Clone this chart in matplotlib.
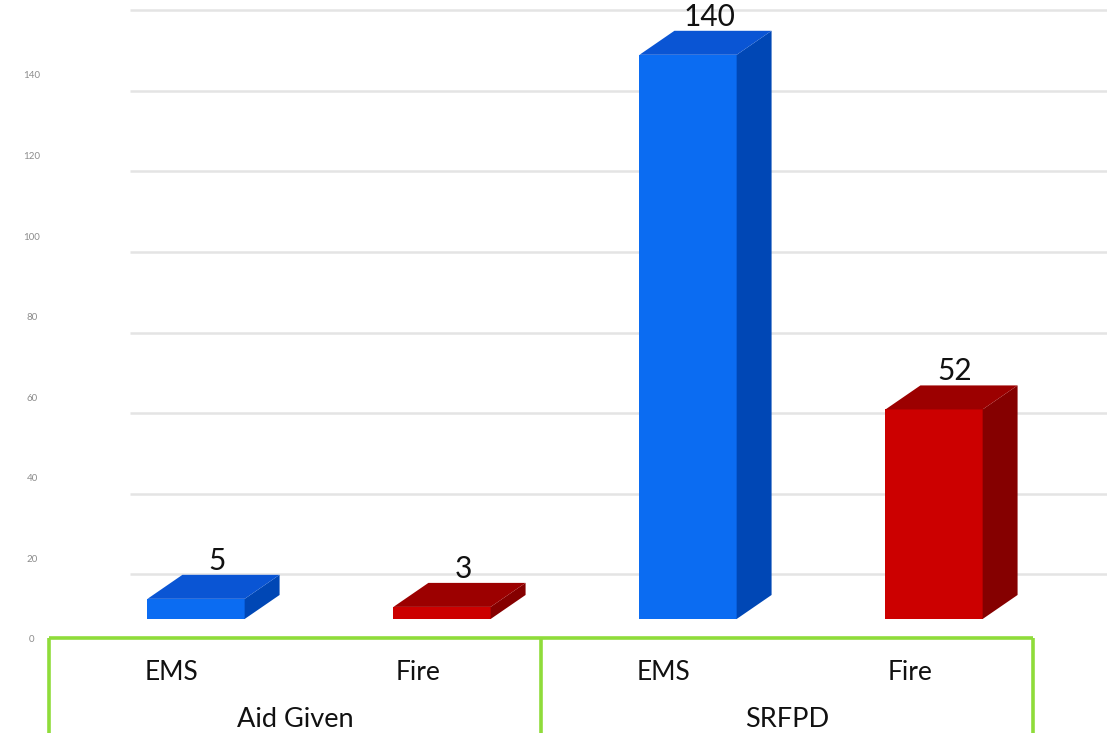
import matplotlib.pyplot as plt
from matplotlib.patches import Polygon
from matplotlib import transforms

plt.rcParams["font.family"] = ["Lato", "DejaVu Sans"]

# ---- data ----
categories = ["EMS", "Fire", "EMS", "Fire"]
groups = ["Aid Given", "SRFPD"]
values = [5, 3, 140, 52]
series_kind = ["EMS", "Fire", "EMS", "Fire"]
y_ticks = [0, 20, 40, 60, 80, 100, 120, 140]
grid_vals = [20, 40, 60, 80, 100, 120, 140, 160]

# face colours: front, side, top
palette = {
    "EMS": ("#0b6cf2", "#0047b5", "#0a55d4"),
    "Fire": ("#cc0000", "#850000", "#9c0000"),
}

# ---- layout ----
bar_w = 0.395      # front face width (category units)
depth_x = 0.142    # 3D depth offset, x
depth_y = 5.96     # 3D depth offset, y (value units)
label_shift = -0.098
box_top = -4.7

fig = plt.figure(figsize=(11.07, 7.33), dpi=100)
ax = fig.add_axes([0, 0, 1, 1])
ax.set_xlim(-0.797, 3.703)
ax.set_ylim(-28.29, 153.6)
ax.axis("off")

# back-wall gridlines, drawn below their nominal value
grid_tr = transforms.offset_copy(ax.transData, fig=fig, x=0, y=-36, units="dots")
for g in grid_vals:
    ax.plot([-0.268, 3.8], [g, g], color="#e4e4e4", lw=1.8, transform=grid_tr,
            solid_capstyle="butt", zorder=1)

tick_tr = transforms.offset_copy(ax.transData, fig=fig, x=0, y=-21, units="dots")
for t in y_ticks:
    ax.text(-0.667, t, str(t), transform=tick_tr, ha="center", va="center",
            fontsize=7, color="#8c8c8c", zorder=2)

xs = list(range(len(values)))
for x, v, kind in zip(xs, values, series_kind):
    front, side, top = palette[kind]
    ax.bar(x, v, width=bar_w, bottom=0, color=front, zorder=3, linewidth=0)
    r = x + bar_w / 2
    l = x - bar_w / 2
    ax.add_patch(Polygon([(r, 0), (r + depth_x, depth_y), (r + depth_x, v + depth_y), (r, v)],
                         closed=True, facecolor=side, edgecolor="none", zorder=3))
    ax.add_patch(Polygon([(l, v), (r, v), (r + depth_x, v + depth_y), (l + depth_x, v + depth_y)],
                         closed=True, facecolor=top, edgecolor="none", zorder=3))
    ax.annotate(str(v), (x + 0.6 * depth_x, v + depth_y), xytext=(0, 0),
                textcoords="offset points", ha="center", va="bottom",
                fontsize=21.5, color="#111111", zorder=4)

# category / group axis box
green = "#8fdc3a"
left, mid, right = -0.5 + label_shift, 1.5 + label_shift, 3.5 + label_shift
ax.plot([left, right], [box_top, box_top], color=green, lw=2.6, zorder=5,
        solid_capstyle="butt")
for xv in (left, mid, right):
    ax.plot([xv, xv], [box_top, -30], color=green, lw=2.6, zorder=5,
            solid_capstyle="butt")

for x, cat in zip(xs, categories):
    ax.text(x + label_shift, -13.2, cat, ha="center", va="center",
            fontsize=19, color="#111111")
for gi, grp in enumerate(groups):
    ax.text(2 * gi + 0.5 + label_shift, -25.0, grp, ha="center", va="center",
            fontsize=19.5, color="#111111")

fig.savefig("out.png", dpi=100, facecolor="white")
